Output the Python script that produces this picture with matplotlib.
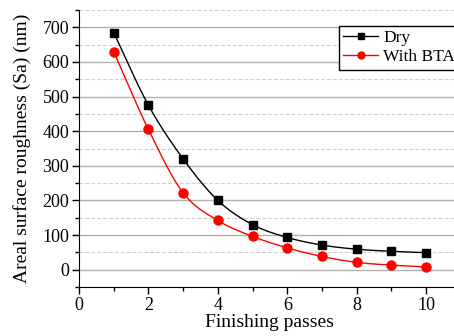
import numpy as np
import matplotlib.pyplot as plt
from matplotlib.ticker import MultipleLocator

plt.rcParams['font.family'] = ['Liberation Serif', 'DejaVu Serif']

passes = [1, 2, 3, 4, 5, 6, 7, 8, 9, 10]
dry = [685, 475, 320, 200, 130, 93, 71, 59, 53, 49]
bta = [630, 405, 222, 142, 96, 63, 38, 21, 13, 8]


def smooth(x, y, n=20):
    # catmull-rom through the points, just for the drawn curve
    x = np.asarray(x, float)
    y = np.asarray(y, float)
    px = np.concatenate([[2 * x[0] - x[1]], x, [2 * x[-1] - x[-2]]])
    py = np.concatenate([[2 * y[0] - y[1]], y, [2 * y[-1] - y[-2]]])
    xs, ys = [], []
    t = np.linspace(0, 1, n, endpoint=False)
    for i in range(1, len(px) - 2):
        for arr, out in ((px, xs), (py, ys)):
            p0, p1, p2, p3 = arr[i - 1], arr[i], arr[i + 1], arr[i + 2]
            out.extend(0.5 * (2 * p1 + (-p0 + p2) * t + (2 * p0 - 5 * p1 + 4 * p2 - p3) * t ** 2
                              + (-p0 + 3 * p1 - 3 * p2 + p3) * t ** 3))
    xs.append(x[-1])
    ys.append(y[-1])
    return xs, ys


fig = plt.figure(figsize=(4.54, 3.36), dpi=100)
ax = fig.add_axes([0.174, 0.146, 0.841, 0.824])

for d, c, m, ms, name in [(dry, 'black', 's', 6, 'Dry'), (bta, 'red', 'o', 6.5, 'With BTA')]:
    sx, sy = smooth(passes, d)
    ax.plot(sx, sy, color=c, lw=1)
    ax.plot(passes, d, color=c, marker=m, ms=ms, lw=0)
    ax.plot([], [], color=c, marker=m, ms=5, lw=1, label=name)

ax.set_xlim(0, 11)
ax.set_ylim(-50, 750)
ax.xaxis.set_major_locator(MultipleLocator(2))
ax.xaxis.set_minor_locator(MultipleLocator(1))
ax.yaxis.set_major_locator(MultipleLocator(100))
ax.yaxis.set_minor_locator(MultipleLocator(50))
ax.set_yticks([0, 100, 200, 300, 400, 500, 600, 700])
ax.grid(True, which='major', axis='y', color='#b0b0b0', lw=1)
ax.grid(True, which='minor', axis='y', color='#d0d0d0', lw=0.8, ls='--')
ax.set_axisbelow(True)
ax.spines['top'].set_visible(False)
ax.spines['right'].set_visible(False)
ax.tick_params(which='both', direction='out', labelsize=13, width=1)
ax.tick_params(which='major', length=5)
ax.tick_params(which='minor', length=3)
ax.tick_params(axis='y', pad=2)
ax.tick_params(axis='x', pad=2)
ax.set_xlabel('Finishing passes', fontsize=14, labelpad=0)
ax.set_ylabel('Areal surface roughness (Sa) (nm)', fontsize=14, labelpad=8)

ax.legend(loc='upper left', bbox_to_anchor=(339 / 454, 1 - 26 / 336), bbox_transform=fig.transFigure,
          fontsize=12.5, frameon=True, fancybox=False, edgecolor='black', framealpha=1,
          handlelength=2.0, handletextpad=0.3, borderpad=0.25, labelspacing=0.15, borderaxespad=0)

fig.savefig('out.png', dpi=100)
